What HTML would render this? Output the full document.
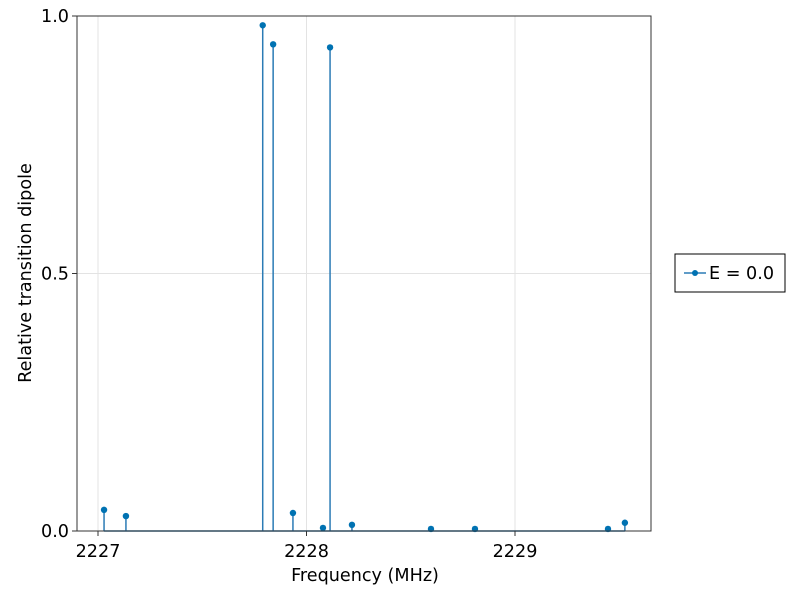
<!DOCTYPE html>
<html><head><meta charset="utf-8"><style>
body{margin:0;background:#fff}
svg{display:block;font-family:"DejaVu Sans","Liberation Sans",sans-serif}
</style></head><body>
<svg id="chart" width="800" height="600">
<rect x="0" y="0" width="800" height="600" fill="#fff"/>
<g id="grid"></g>
<g id="series"></g>
<rect x="77" y="16" width="574" height="515" fill="none" stroke="#333" stroke-width="1"/>
<g id="ticks"></g>
<text x="365" y="581" font-size="17.6" text-anchor="middle" fill="#000">Frequency (MHz)</text>
<text transform="translate(31,273) rotate(-90)" font-size="17.6" text-anchor="middle" fill="#000">Relative transition dipole</text>
<g>
<rect x="675" y="254" width="110" height="38" fill="#fff" stroke="#000" stroke-width="1"/>
<line x1="684" y1="273" x2="706" y2="273" stroke="#2b7bb5" stroke-width="1.5"/>
<circle cx="695" cy="273" r="3" fill="#0072b2"/>
<text x="709" y="279" font-size="17.6" fill="#000">E = 0.0</text>
</g>
</svg>
<script>
const freqs=[2227.029,2227.134,2227.79,2227.84,2227.935,2228.079,2228.113,2228.218,2228.597,2228.808,2229.446,2229.527];
const values=[0.041,0.029,0.982,0.945,0.035,0.006,0.939,0.012,0.004,0.004,0.004,0.016];
const xTicks=[2227,2228,2229];
const yTicks=[0,0.5,1.0];
const yTickLabels=["0.0","0.5","1.0"];
const NS="http://www.w3.org/2000/svg";
const X0=77,X1=651,Y0=531,Y1=16;
const xScale=v=>98+(v-2227)*208.5;
const yScale=v=>Y0-v*(Y0-Y1);
function mk(tag,attrs,parent){const e=document.createElementNS(NS,tag);for(const k in attrs)e.setAttribute(k,attrs[k]);parent.appendChild(e);return e;}
const grid=document.getElementById('grid'),ticks=document.getElementById('ticks'),series=document.getElementById('series');
xTicks.forEach(t=>{const x=xScale(t);
 const g=mk('line',{x1:x,x2:x,y1:Y1,y2:Y0,stroke:'#e3e3e3','stroke-width':1},grid);
 
 
 const tk=mk('line',{x1:x,x2:x,y1:Y0,y2:Y0+5,stroke:'#333'},ticks);
 
 
 const tx=mk('text',{x:x,y:Y0+26,'font-size':17.6,'text-anchor':'middle',fill:'#000'},ticks);tx.textContent=t;
 
 
});
yTicks.forEach((t,i)=>{const y=yScale(t);
 const g=mk('line',{x1:X0,x2:X1,y1:y,y2:y,stroke:'#e3e3e3','stroke-width':1},grid);
 
 
 const tk=mk('line',{x1:X0-5,x2:X0,y1:y,y2:y,stroke:'#333'},ticks);
 
 
 const tx=mk('text',{x:X0-8,y:y+6,'font-size':17.6,'text-anchor':'end',fill:'#000'},ticks);tx.textContent=yTickLabels[i];
 
 
});
const base=mk('line',{x1:xScale(freqs[0]),x2:xScale(freqs[freqs.length-1]),y1:yScale(0),y2:yScale(0),stroke:'#2b7bb5','stroke-width':1.5},series);


freqs.forEach((f,i)=>{const x=xScale(f),y=yScale(values[i]);
 const s=mk('line',{x1:x,x2:x,y1:yScale(0),y2:y,stroke:'#2b7bb5','stroke-width':1.5},series);
 
 
 const c=mk('circle',{cx:x,cy:y,r:3.2,fill:'#0072b2'},series);
 
 
});
</script>
</body></html>
